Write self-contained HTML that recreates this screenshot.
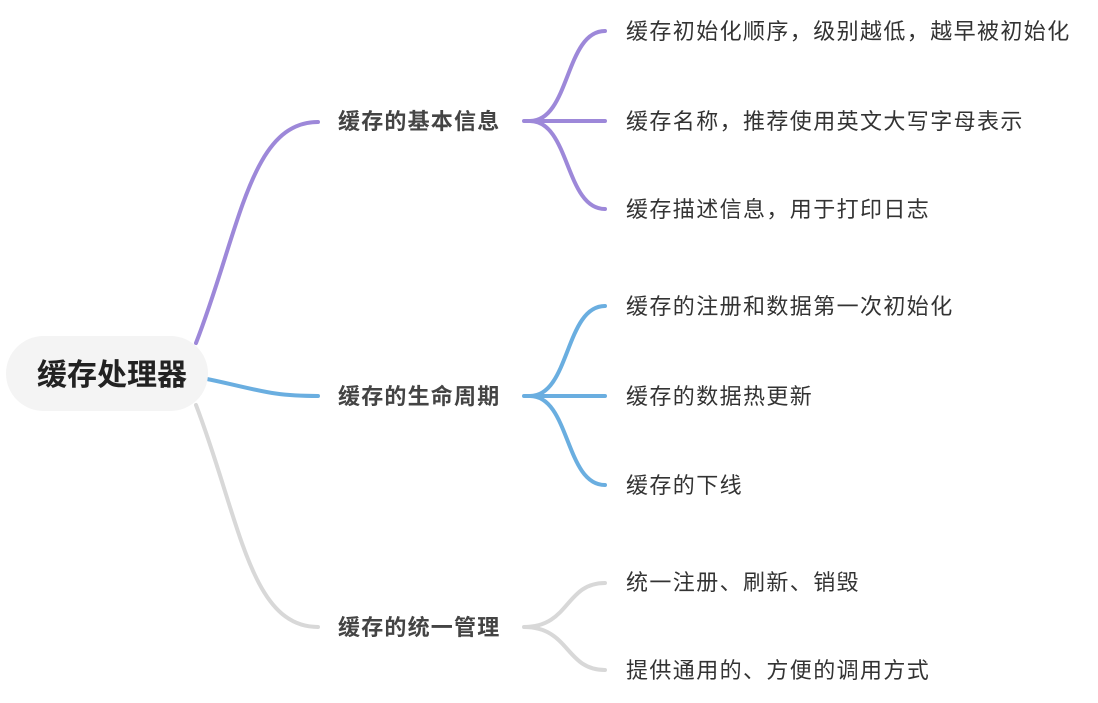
<!DOCTYPE html>
<html><head><meta charset="utf-8"><style>
html,body{margin:0;padding:0;background:#fff;width:1098px;height:703px;overflow:hidden}
svg text{font-family:"Liberation Sans","Noto Sans CJK SC",sans-serif}
</style></head><body>
<svg width="1098" height="703" viewBox="0 0 1098 703" xmlns="http://www.w3.org/2000/svg">
<g fill="none" stroke-width="4" stroke-linecap="round">
<path d="M196 343 C 240 230, 250 122, 318 122" stroke="#9d88d9"/>
<path d="M207 379 C 260 390, 270 396, 318 396" stroke="#6aaee0"/>
<path d="M196 405 C 240 520, 250 627, 318 627" stroke="#d8d8d8"/>
<path d="M524 121 L605 121 M530 121 C 570 121, 565 31, 605 31 M530 121 C 570 121, 565 209, 605 209" stroke="#9d88d9"/>
<path d="M524 396 L605 396 M530 396 C 570 396, 565 306, 605 306 M530 396 C 570 396, 565 485, 605 485" stroke="#6aaee0"/>
<path d="M524 627 C 570 627, 565 583, 605 583 M524 627 C 570 627, 565 670, 605 670" stroke="#d8d8d8"/>
</g>
<rect x="6" y="336" width="202" height="75" rx="37.5" fill="#f4f4f4"/>
<text x="112" y="385" font-size="30" font-weight="bold" fill="#222" text-anchor="middle">缓存处理器</text>
<g font-size="22" font-weight="bold" fill="#444" letter-spacing="1.2">
<text x="338" y="129">缓存的基本信息</text>
<text x="338" y="404">缓存的生命周期</text>
<text x="338" y="635">缓存的统一管理</text>
</g>
<g font-size="22" fill="#333" letter-spacing="1.4">
<text x="626" y="39">缓存初始化顺序，级别越低，越早被初始化</text>
<text x="626" y="129">缓存名称，推荐使用英文大写字母表示</text>
<text x="626" y="217">缓存描述信息，用于打印日志</text>
<text x="626" y="314">缓存的注册和数据第一次初始化</text>
<text x="626" y="404">缓存的数据热更新</text>
<text x="626" y="493">缓存的下线</text>
<text x="626" y="590">统一注册、刷新、销毁</text>
<text x="626" y="678">提供通用的、方便的调用方式</text>
</g>
</svg>
</body></html>
